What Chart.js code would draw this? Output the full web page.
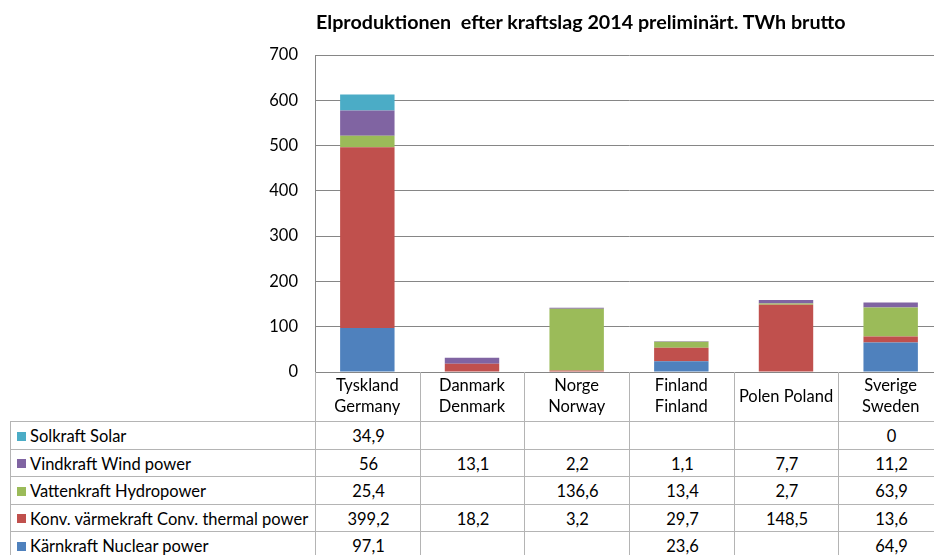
<!DOCTYPE html>
<html><head><meta charset="utf-8">
<script src="https://cdn.jsdelivr.net/npm/chart.js@4"></script>
<style>
html,body{margin:0;padding:0;overflow:hidden;background:#fff;}
#wrap{position:relative;width:934px;height:555px;overflow:hidden;font-family:Lato,"Open Sans",sans-serif;color:#000;}
#title{position:absolute;left:316px;top:9px;font-weight:bold;font-size:19.7px;white-space:pre;color:#000;line-height:26px;}
#c{position:absolute;left:0;top:0;}
.cell{position:absolute;box-sizing:border-box;border-left:1px solid #b4b4b4;border-top:1px solid #b4b4b4;font-size:16.5px;display:flex;align-items:center;justify-content:center;white-space:nowrap;}
.lab{justify-content:flex-start;padding-left:6px;}
.sw{display:inline-block;width:9px;height:9px;margin-right:4px;}
</style></head>
<body><div id="wrap">
<canvas id="c" width="945" height="421"></canvas>
<div id="title">Elproduktionen  efter kraftslag 2014 preliminärt. TWh brutto</div>
</div>
<script>
const titleText = "Elproduktionen  efter kraftslag 2014 preliminärt. TWh brutto";
const categories = [["Tyskland","Germany"],["Danmark","Denmark"],["Norge","Norway"],["Finland","Finland"],"Polen Poland",["Sverige","Sweden"]];
const seriesNames = ["Kärnkraft Nuclear power","Konv. värmekraft Conv. thermal power","Vattenkraft Hydropower","Vindkraft Wind power","Solkraft Solar"];
const nuclear = [97.1, null, null, 23.6, null, 64.9];
const thermal = [399.2, 18.2, 3.2, 29.7, 148.5, 13.6];
const hydro   = [25.4, null, 136.6, 13.4, 2.7, 63.9];
const wind    = [56, 13.1, 2.2, 1.1, 7.7, 11.2];
const solar   = [34.9, null, null, null, null, 0];
const yTicks = [0,100,200,300,400,500,600,700];
const colors = ["#4F81BD","#C0504D","#9BBB59","#8064A2","#4BACC6"];
const seriesData = [nuclear, thermal, hydro, wind, solar];

const FONT = 'Lato, "Open Sans", sans-serif';

const headerLines = {
  id:'headerLines',
  afterDraw(chart){
    const ctx = chart.ctx, x = chart.scales.x, a = chart.chartArea;
    const half = (x.getPixelForValue(1)-x.getPixelForValue(0))/2;
    ctx.save();
    ctx.strokeStyle = '#b4b4b4'; ctx.lineWidth = 1;
    for(let i=0;i<=categories.length;i++){
      const px = Math.round(x.getPixelForValue(0) - half + i*2*half) + 0.5;
      ctx.beginPath(); ctx.moveTo(px, a.bottom); ctx.lineTo(px, 421); ctx.stroke();
    }
    ctx.restore();
  }
};

const chart = new Chart(document.getElementById('c'), {
  type:'bar',
  data:{
    labels: categories,
    datasets: seriesNames.map((n,i)=>({label:n, data:seriesData[i], backgroundColor:colors[i], borderWidth:0, stack:'s',
      categoryPercentage:1, barPercentage:0.52}))
  },
  options:{
    responsive:false, animation:false,
    layout:{padding:{top:55,right:2,bottom:0,left:0}},
    plugins:{legend:{display:false}, tooltip:{enabled:false}, title:{display:false}},
    scales:{
      x:{stacked:true,
        grid:{display:false, drawTicks:false},
        border:{display:true,color:'#868686'},
        ticks:{font:{family:FONT,size:16.5,lineHeight:1.27},color:'#000',padding:14,crossAlign:'center',maxRotation:0,autoSkip:false},
        afterFit(s){ s.height = 49; }
      },
      y:{stacked:true,min:0,max:700,
        afterBuildTicks(s){ s.ticks = yTicks.map(v=>({value:v})); },
        grid:{color:'#868686',drawTicks:false},
        border:{display:true,color:'#868686'},
        ticks:{font:{family:FONT,size:16.5},color:'#000',padding:17},
        afterFit(s){ s.width = 315; }
      }
    }
  },
  plugins:[headerLines]
});

// data table
(function(){
  const wrap = document.getElementById('wrap');
  const x = chart.scales.x;
  const half = (x.getPixelForValue(1)-x.getPixelForValue(0))/2;
  const b0 = Math.round(x.getPixelForValue(0)-half);
  const rowsOrder = [4,3,2,1,0];
  const top0 = 421, rh = 27.6;
  const fmt = v => v===null||v===undefined ? '' : String(v).replace('.',',');
  rowsOrder.forEach((si,r)=>{
    const t = Math.round(top0 + r*rh), h = Math.round(top0+(r+1)*rh) - t;
    let d = document.createElement('div');
    d.className='cell lab';
    d.style.left='10px'; d.style.top=t+'px'; d.style.width=(b0-10)+'px'; d.style.height=(h+1)+'px';
    d.innerHTML = '<span class="sw" style="background:'+colors[si]+'"></span>';
    d.appendChild(document.createTextNode(seriesNames[si]));
    wrap.appendChild(d);
    for(let c=0;c<categories.length;c++){
      const l = Math.round(x.getPixelForValue(c)-half), rr = Math.round(x.getPixelForValue(c)+half);
      let e = document.createElement('div');
      e.className='cell';
      e.style.left=l+'px'; e.style.top=t+'px'; e.style.width=(rr-l+1)+'px'; e.style.height=(h+1)+'px';
      e.textContent = fmt(seriesData[si][c]);
      wrap.appendChild(e);
    }
  });
})();
</script>
</body></html>
